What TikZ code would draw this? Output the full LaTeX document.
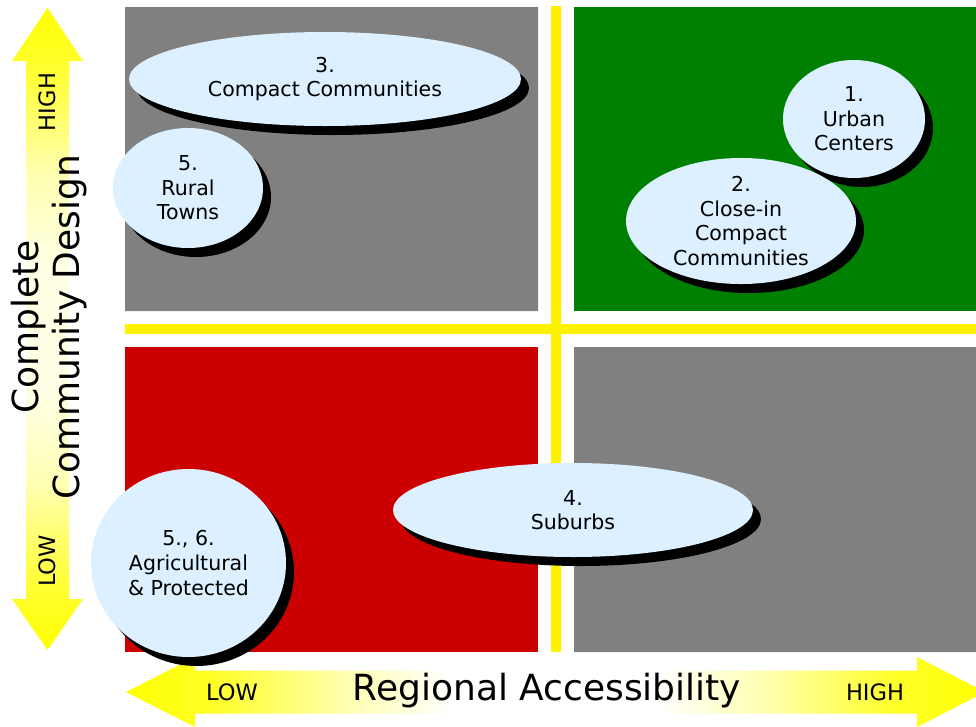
\documentclass[tikz,border=0pt]{standalone}
\usepackage{fontspec}
\setmainfont{DejaVu Sans}
\usetikzlibrary{shapes.geometric,shadows}
\definecolor{quadgray}{RGB}{128,128,128}
\definecolor{quadgreen}{RGB}{0,128,0}
\definecolor{quadred}{RGB}{204,0,0}
\definecolor{blobblue}{RGB}{220,240,255}
\pgfdeclarehorizontalshading{axisfade}{100bp}{color(0bp)=(yellow); color(25bp)=(yellow); color(30bp)=(yellow!85); color(38bp)=(yellow!30); color(44bp)=(white); color(56bp)=(white); color(62bp)=(yellow!30); color(70bp)=(yellow!85); color(75bp)=(yellow); color(100bp)=(yellow)}
\pgfdeclarehorizontalshading{axisfadev}{100bp}{color(0bp)=(yellow); color(25bp)=(yellow); color(30bp)=(yellow!80); color(38bp)=(yellow!30); color(45bp)=(yellow!10); color(55bp)=(yellow!10); color(62bp)=(yellow!30); color(70bp)=(yellow!80); color(75bp)=(yellow); color(100bp)=(yellow)}
\begin{document}
\begin{tikzpicture}[x=0.75pt, y=-0.75pt,
    blob/.style={ellipse, fill=blobblue, inner sep=0pt, align=center,
      drop shadow={shadow xshift=6pt, shadow yshift=-6.75pt, fill=black, opacity=1},
      font={\fontsize{15.4}{18.4}\selectfont}},
    tick/.style={font={\fontsize{16.9}{20}\selectfont}},
    axis/.style={align=center, font={\fontsize{27}{30.75}\selectfont}}]
  \useasboundingbox (0,0) rectangle (976,726);
  % quadrants
  \fill[quadgray] (125,7) rectangle (538,311)
                  (574,347) rectangle (976,652);
  \fill[quadgreen] (574,7) rectangle (976,311);
  \fill[quadred] (125,347) rectangle (538,652);
  \fill[yellow] (551,6) rectangle (561,652)
                (125,324) rectangle (976,334);
  % axes
  \shade[shading=axisfade] (126,692) -- (195,657) -- (195,670.5) -- (917,670.5) -- (917,657)
        -- (985,692) -- (917,727) -- (917,713.5) -- (195,713.5) -- (195,727) -- cycle;
  \shade[shading=axisfadev, shading angle=90] (47.5,8) -- (83,61) -- (69,61) -- (69,599) -- (83,599)
        -- (47.5,650) -- (12,599) -- (26,599) -- (26,61) -- (12,61) -- cycle;
  \draw (547,691) node[axis] (xaxis) {Regional Accessibility}
        (232,692) node[tick] (xlow) {LOW}
        (875,692) node[tick] (xhigh) {HIGH}
        (49,327) node[axis, rotate=90] (yaxis) {Complete\\Community Design}
        (47.5,102) node[tick, rotate=90] (yhigh) {HIGH}
        (47.5,561) node[tick, rotate=90] (ylow) {LOW};
  % community types
  \node[blob, minimum width=294pt, minimum height=70.5pt] (compact) at (325,79) {3.\\Compact Communities};
  \node[blob, minimum width=112.5pt, minimum height=90pt] (rural) at (188,188) {5.\\Rural\\Towns};
  \node[blob, minimum width=106.5pt, minimum height=88.5pt] (urban) at (854,119) {1.\\Urban\\Centers};
  \node[blob, minimum width=172.5pt, minimum height=94.5pt] (closein) at (741,221) {2.\\Close-in\\Compact\\Communities};
  \node[blob, minimum width=270pt, minimum height=70.5pt] (suburbs) at (573,510) {4.\\Suburbs};
  \node[blob, minimum width=146.25pt, minimum height=141pt] (agri) at (188.5,563) {5., 6.\\Agricultural\\\& Protected};
\end{tikzpicture}
\end{document}
